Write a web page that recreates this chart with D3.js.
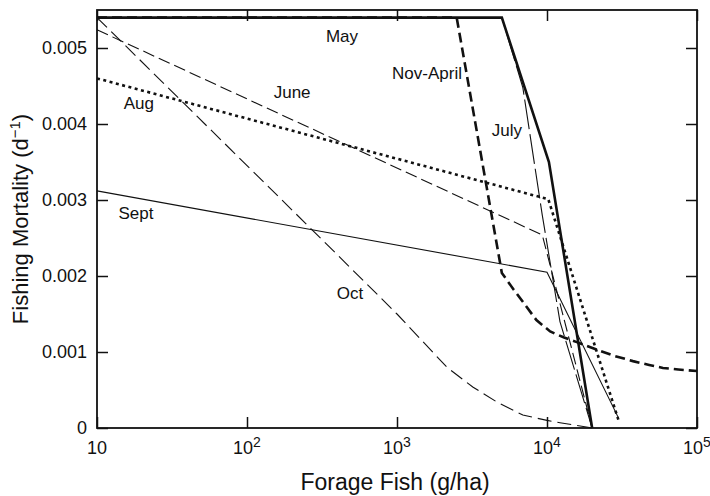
<!DOCTYPE html>
<html>
<head>
<meta charset="utf-8">
<script src="https://cdn.jsdelivr.net/npm/d3@7"></script>
<style>
  body { margin: 0; background: #fff; }
  text { font-family: "Liberation Sans", Arial, Helvetica, sans-serif; fill: #111; }
</style>
</head>
<body>
<div id="chart"></div>
<script>
// series: [forage fish g/ha, fishing mortality d^-1]
const may      = [[10, 0.0054], [5000, 0.0054], [10300, 0.0035], [20000, 0]];
const july     = [[10, 0.0054], [5000, 0.0054], [6900, 0.00448], [9300, 0.0028], [12200, 0.0014], [20000, 0]];
const novApril = [[10, 0.0054], [2500, 0.0054], [5000, 0.00204], [6000, 0.00182], [6900, 0.00166], [8500, 0.00142],
                  [10500, 0.00127], [13000, 0.00119], [15800, 0.00113], [21500, 0.00103], [28000, 0.00095],
                  [37400, 0.00088], [48000, 0.00083], [59300, 0.00079], [75000, 0.00077], [100000, 0.00075]];
const june     = [[10, 0.00524], [9300, 0.00254], [20000, 0]];
const aug      = [[10, 0.0046], [10200, 0.00301], [30000, 0.0001]];
const sept     = [[10, 0.00312], [10000, 0.00205], [30000, 0.00013]];
const oct      = [[10, 0.0054], [316, 0.00248], [1000, 0.0015], [1500, 0.00113], [2150, 0.0008], [3200, 0.00054],
                  [4650, 0.00034], [6900, 0.00017], [10000, 0.0001], [12200, 0.00007], [20000, 0]];

const xTicks = [10, 100, 1000, 10000, 100000];
const xTickExp = ["", "2", "3", "4", "5"];
const yTicks = [0, 0.001, 0.002, 0.003, 0.004, 0.005];

// label anchors in data units
const labels = [
  {text: "May", x: 430, y: 0.00516},
  {text: "Nov-April", x: 1585, y: 0.00467},
  {text: "June", x: 200, y: 0.00442},
  {text: "Aug", x: 19, y: 0.00428},
  {text: "July", x: 5410, y: 0.00392},
  {text: "Sept", x: 18.2, y: 0.00283},
  {text: "Oct", x: 486, y: 0.00178}
];

const w = 710, h = 496;
const margin = {top: 10, right: 13, bottom: 68, left: 97};

const svg = d3.select("#chart").append("svg").attr("width", w).attr("height", h);

const x = d3.scaleLog().domain([10, 1e5]).range([margin.left, w - margin.right]);
const y = d3.scaleLinear().domain([0, 0.0055]).range([h - margin.bottom, margin.top]);

// axes, ticks pointing inward on all four sides
const xb = svg.append("g").attr("transform", "translate(0," + y(0) + ")")
  .call(d3.axisBottom(x).tickValues(xTicks).tickSizeInner(-11).tickSizeOuter(0).tickFormat(""));
const xt = svg.append("g").attr("transform", "translate(0," + margin.top + ")")
  .call(d3.axisTop(x).tickValues(xTicks).tickSizeInner(-11).tickSizeOuter(0).tickFormat(""));
const yl = svg.append("g").attr("transform", "translate(" + margin.left + ",0)")
  .call(d3.axisLeft(y).tickValues(yTicks).tickSizeInner(-11).tickSizeOuter(0).tickPadding(10)
    .tickFormat(d => d === 0 ? "0" : d3.format(".3f")(d)));
const yr = svg.append("g").attr("transform", "translate(" + (w - margin.right) + ",0)")
  .call(d3.axisRight(y).tickValues(yTicks).tickSizeInner(-11).tickSizeOuter(0).tickFormat(""));

[xb, xt, yl, yr].forEach(g => {
  g.select(".domain").remove();
  g.selectAll(".tick line").attr("stroke", "#111").attr("stroke-width", 1.5);
});
yl.selectAll(".tick text").attr("font-size", 18).attr("font-family", null);

// x tick labels with superscripts
xTicks.forEach((v, i) => {
  const t = svg.append("text").attr("x", x(v)).attr("y", y(0) + 26)
    .attr("text-anchor", "middle").attr("font-size", 18).text("10");
  if (xTickExp[i]) {
    t.append("tspan").attr("dy", -7).attr("font-size", 14).text(xTickExp[i]);
  }
});

// frame
svg.append("rect").attr("x", margin.left).attr("y", margin.top)
  .attr("width", w - margin.left - margin.right).attr("height", y(0) - margin.top)
  .attr("fill", "none").attr("stroke", "#111").attr("stroke-width", 1.8);

// lines
const line = d3.line().x(d => x(d[0])).y(d => y(d[1]));
const series = [
  {data: sept, width: 1.1, dash: null},
  {data: oct, width: 1.1, dash: "14,6"},
  {data: june, width: 1.1, dash: "12,5"},
  {data: july, width: 1.1, dash: "30,5"},
  {data: aug, width: 2.6, dash: "3,3.5"},
  {data: novApril, width: 2.6, dash: "10,5"},
  {data: may, width: 2.6, dash: null}
];
series.forEach(s => {
  svg.append("path").attr("d", line(s.data)).attr("fill", "none")
    .attr("stroke", "#111").attr("stroke-width", s.width)
    .attr("stroke-dasharray", s.dash);
});

// series labels
labels.forEach(l => {
  svg.append("text").attr("x", x(l.x)).attr("y", y(l.y)).attr("dy", "0.35em")
    .attr("text-anchor", "middle").attr("font-size", 17).text(l.text);
});

// axis titles
svg.append("text").attr("x", 395).attr("y", 490)
  .attr("text-anchor", "middle").attr("font-size", 23).text("Forage Fish (g/ha)");

const yt = svg.append("text").attr("transform", "translate(28," + ((margin.top + y(0)) / 2) + ") rotate(-90)")
  .attr("text-anchor", "middle").attr("font-size", 22).text("Fishing Mortality (d");
yt.append("tspan").attr("dy", -8).attr("font-size", 15).text("\u22121");
yt.append("tspan").attr("dy", 8).text(")");
</script>
</body>
</html>
